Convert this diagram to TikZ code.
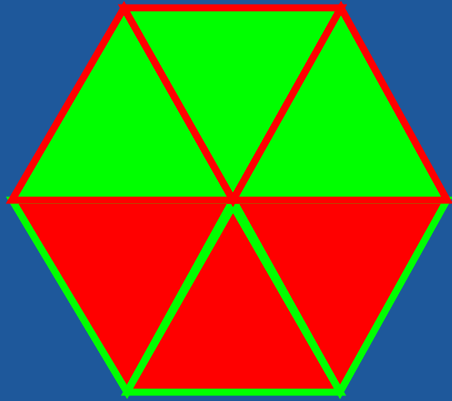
\documentclass[tikz,border=0pt]{standalone}
\begin{document}
\begin{tikzpicture}[x=1pt,y=-1pt,
  upper/.style={fill={rgb,255:red,0;green,255;blue,0},draw={rgb,255:red,255;green,0;blue,0},line width=7pt,line join=miter},
  lower/.style={fill={rgb,255:red,255;green,0;blue,0},draw={rgb,255:red,0;green,255;blue,0},line width=7pt,line join=miter}]
\definecolor{bgblue}{RGB}{30,88,155}
\fill[bgblue] (0,0) rectangle (452,401);
\useasboundingbox (0,0) rectangle (452,401);
\coordinate (TL) at (124,8);
\coordinate (TR) at (341,8);
\coordinate (R) at (447,200);
\coordinate (BR) at (340,392);
\coordinate (BL) at (127,392);
\coordinate (L) at (12,200);
\coordinate (C) at (233,200);
\coordinate (C2) at (233,206);
% lower half
\filldraw[lower] (L) -- (C) -- (BL) -- cycle;
\filldraw[lower] (C) -- (R) -- (BR) -- cycle;
\filldraw[lower] (BL) -- (C2) -- (BR) -- cycle;
% upper half
\filldraw[upper] (L) -- (TL) -- (C) -- cycle;
\filldraw[upper] (TL) -- (TR) -- (C) -- cycle;
\filldraw[upper] (TR) -- (R) -- (C) -- cycle;
\end{tikzpicture}
\end{document}
